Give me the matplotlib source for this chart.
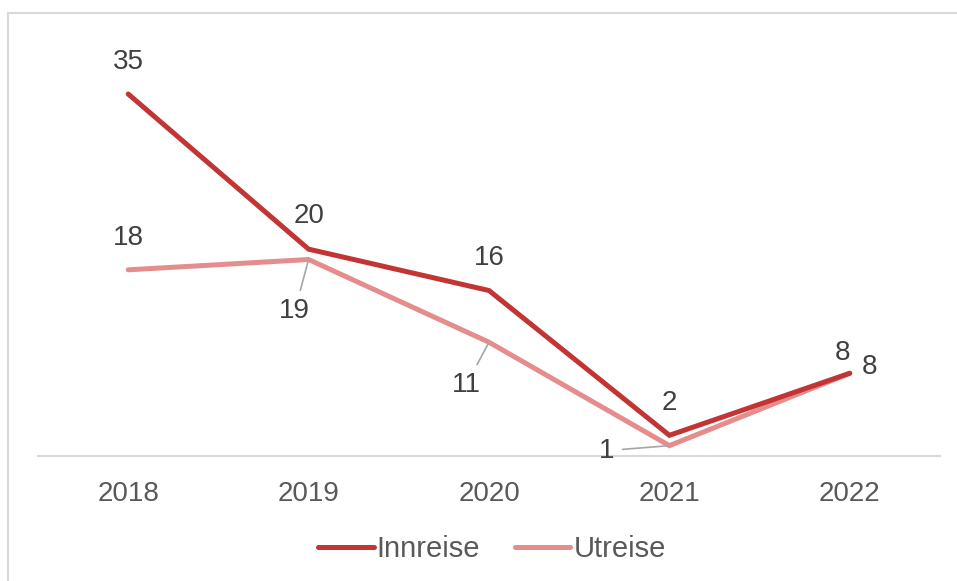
import matplotlib
matplotlib.use("Agg")
from matplotlib import pyplot as plt
from matplotlib.patches import Rectangle

plt.rcParams['font.family'] = ['Liberation Sans', 'DejaVu Sans']

# Data
years = ["2018", "2019", "2020", "2021", "2022"]
innreise = [35, 20, 16, 2, 8]
utreise = [18, 19, 11, 1, 8]

# label offsets in pixels (dx, dy) and whether a leader line is drawn
innreise_offsets = [(0, 32), (0, 33), (0, 33), (0, 32), (-7, 20)]
utreise_offsets = [(0, 32), (-14, -52), (-23, -43), (-63, -5), (20, 6)]
utreise_leader = [False, True, True, True, False]

c_inn = "#C33434"
c_ut = "#E58C8C"
c_lbl = "#404040"
c_tick = "#595959"

fig = plt.figure(figsize=(9.57, 5.81), dpi=100)
ax = fig.add_axes([38 / 957, 125 / 581, 902 / 957, 413.7 / 581])

x = list(range(len(years)))
ax.plot(x, innreise, color=c_inn, lw=3.6, solid_capstyle="round",
        solid_joinstyle="miter", label="Innreise", zorder=3)
ax.plot(x, utreise, color=c_ut, lw=3.6, solid_capstyle="round",
        solid_joinstyle="miter", label="Utreise", zorder=2)

for i, v in enumerate(innreise):
    ax.annotate(str(v), (x[i], v), xytext=innreise_offsets[i], textcoords="offset pixels",
                ha="center", va="center", fontsize=20, color=c_lbl)

for i, v in enumerate(utreise):
    arrow = None
    if utreise_leader[i]:
        arrow = dict(arrowstyle="-", color="#A6A6A6", lw=1.2, shrinkA=4, shrinkB=1)
    ax.annotate(str(v), (x[i], v), xytext=utreise_offsets[i], textcoords="offset pixels",
                ha="center", va="center", fontsize=20, color=c_lbl, arrowprops=arrow)

ax.set_xlim(-0.5, 4.5)
ax.set_ylim(0, 40)
ax.set_xticks(x)
ax.set_xticklabels(years)
ax.set_yticks([])
ax.tick_params(axis="x", length=0, pad=18, labelsize=20, labelcolor=c_tick)
for s in ["top", "right", "left"]:
    ax.spines[s].set_visible(False)
ax.spines["bottom"].set_color("#D9D9D9")
ax.spines["bottom"].set_linewidth(1.5)

fig.legend(loc="center", bbox_to_anchor=(0.514, 0.055), ncol=2, frameon=False,
           fontsize=21, handlelength=1.9, handletextpad=0.1, columnspacing=1.2,
           labelcolor=c_tick)

# chart border
fig.patches.append(Rectangle((8 / 957, -0.05), 1.05, 1.05 - 13 / 581,
                             transform=fig.transFigure, fill=False,
                             edgecolor="#D9D9D9", lw=1.5))

fig.savefig("out.png", dpi=100)
